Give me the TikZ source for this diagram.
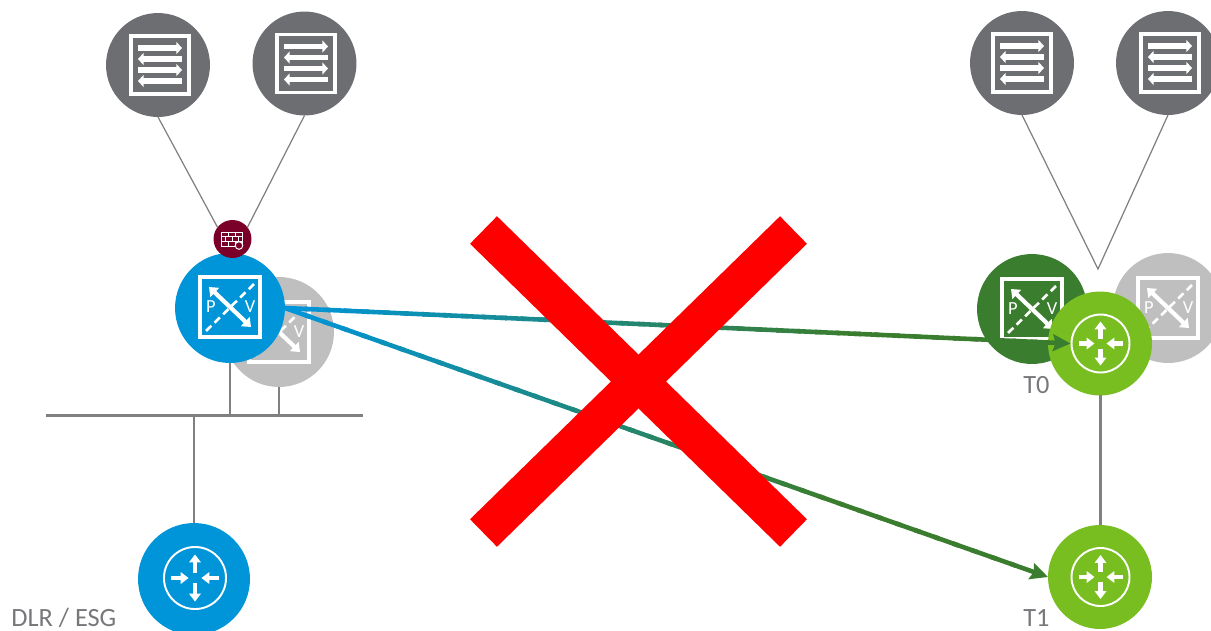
\documentclass[tikz,border=0pt]{standalone}
\usepackage{fontspec}
\setmainfont{Carlito}
\usetikzlibrary{arrows.meta,calc}
\definecolor{srvgray}{HTML}{6D6E71}
\definecolor{wiregray}{HTML}{808083}
\definecolor{txtgray}{HTML}{77787B}
\definecolor{lightgray}{HTML}{BFBFBF}
\definecolor{nsxblue}{HTML}{0095D9}
\definecolor{darkgreen}{HTML}{3A7D2E}
\definecolor{limegreen}{HTML}{78BE20}
\definecolor{fwred}{HTML}{7B0029}
\tikzset{
  disc/.style={circle,inner sep=0pt,outer sep=0pt,minimum size=#1*0.04cm},
  lbl/.style={text=txtgray,font=\fontsize{15}{18}\selectfont,inner sep=0pt},
  thinwire/.style={draw=wiregray,line width=0.7pt},
  wire/.style={draw=wiregray,line width=1.7pt},
  iconline/.style={draw=white,line width=1.8pt},
  pvicon/.pic={
    \draw[iconline] (-30,-30) rectangle (30,30);
    \draw[white,line width=2.4pt,{Triangle[length=4.5pt,width=7pt]}-{Triangle[length=4.5pt,width=7pt]}] (-21,-20) -- (21,20);
    \draw[white,line width=1.5pt,dash pattern=on 4.2pt off 2.6pt] (24,-23) -- (-25,25);
    \node[text=white,inner sep=0pt,font=\fontsize{10.5}{12}\selectfont] (-p) at (-19,0) {P};
    \node[text=white,inner sep=0pt,font=\fontsize{10.5}{12}\selectfont] (-v) at (20,0) {V};
  },
  routericon/.pic={
    \node[circle,draw=white,line width=1.1pt,minimum size=1.16cm,inner sep=0pt,transform shape] (-ring) at (0,0) {};
    \foreach \dx/\dy in {-1/0,1/0,0/-1,0/1}{
      \ifnum\dx=0
        \draw[white,line width=2.3pt,-{Triangle[length=4.5pt,width=6.5pt]}] (0,5*\dy) -- (0,22*\dy);
      \else
        \draw[white,line width=2.3pt,-{Triangle[length=4.5pt,width=6.5pt]}] (22*\dx,0) -- (6*\dx,0);
      \fi
    }
  },
  servericon/.pic={
    \draw[iconline] (-29,-29) rectangle (29,29);
    \foreach \yy/\tipdir in {-17/1,-6/-1,5/1,16/-1}{
      \draw[white,line width=3pt,-{Triangle[length=3.2pt,width=6.8pt]}] (-22*\tipdir,\yy) -- (22*\tipdir,\yy);
    }
  },
  fwicon/.pic={
    \draw[white,line width=0.55pt] (-11,-7) rectangle (10,7)
      (-11,-2.3) -- (10,-2.3) (-11,2.3) -- (10,2.3)
      (-4,-7) -- (-4,-2.3) (3,-7) -- (3,-2.3)
      (-7,-2.3) -- (-7,2.3) (0,-2.3) -- (0,2.3) (6,-2.3) -- (6,2.3)
      (-4,2.3) -- (-4,7) (3,2.3) -- (3,7);
    \draw[white,fill=fwred,line width=0.55pt] (7,6.5) circle (3.8);
  },
}
\begin{document}
\begin{tikzpicture}[x=0.02cm,y=-0.02cm]
  \path[use as bounding box,clip] (0,0) rectangle (1211,630);
  % edge racks
  \node[disc=52,fill=srvgray] (srvA) at (158,65) {};
  \node[disc=52,fill=srvgray] (srvB) at (304.5,63.5) {};
  \node[disc=52,fill=srvgray] (srvC) at (1022,63) {};
  \node[disc=52,fill=srvgray] (srvD) at (1168,63) {};
  \pic (icoA) at (160,65) {servericon};
  \pic (icoB) at (306,63.5) {servericon};
  \pic (icoC) at (1022,63) {servericon};
  \pic (icoD) at (1170,63) {servericon};
  % left side
  \coordinate (busL) at (46,415.5);
  \coordinate (busR) at (363,415.5);
  \node[disc=55,fill=lightgray] (pvgrayL) at (279,332) {};
  \pic (icoE) at (279,332) {pvicon};
  \node[disc=55,fill=nsxblue] (pvblue) at (230,308) {};
  \pic (icoF) at (230,307) {pvicon};
  \node[disc=19,fill=fwred] (fw) at (232.5,239) {};
  \pic (icoG) at (232,239) {fwicon};
  \draw[thinwire] (srvA.south) -- (fw.142);
  \draw[thinwire] (srvB.south) -- (fw.38);
  \node[disc=56,fill=nsxblue] (dlr) at (194,579) {};
  \pic[scale=1.07] (dlrR) at (195,578) {routericon};
  \draw[wire] (busL) -- (busR);
  \draw[wire] (pvblue.south) -- (pvblue.south |- busL);
  \draw[wire] (pvgrayL.south) -- (pvgrayL.south |- busL);
  \draw[wire] (dlr.north) -- (dlr.north |- busL);
  % right side
  \coordinate (apex) at (1098,269);
  \draw[thinwire] (srvC.south) -- (apex) -- (srvD.south);
  \node[disc=55,fill=darkgreen] (pvgreen) at (1032,309) {};
  \pic (icoH) at (1032,309) {pvicon};
  \node[disc=55,fill=lightgray] (pvgrayR) at (1168,308) {};
  \pic (icoI) at (1168,308) {pvicon};
  \node[disc=52,fill=limegreen] (tzero) at (1100,343.5) {};
  \pic (tzeroR) at (1100.5,343.5) {routericon};
  \node[disc=52,fill=limegreen] (tone) at (1100,577) {};
  \pic (toneR) at (1100.5,577) {routericon};
  \draw[wire] (tzero.south) -- (tone.north);
  % migration arrows, blue fading into green
  \foreach \target in {tzeroR-ring.west,tone.west}{
    \foreach \i in {0,...,37}{
      \pgfmathsetmacro{\tstart}{\i/40}
      \pgfmathsetmacro{\tend}{(\i+1.3)/40}
      \pgfmathsetmacro{\mixval}{max(0,100-\i*100/28)}
      \draw[nsxblue!\mixval!darkgreen,line width=2.6pt] ($(pvblue.east)!\tstart!(\target)$) -- ($(pvblue.east)!\tend!(\target)$);
    }
    \draw[darkgreen,line width=2.6pt,-{Stealth[length=10pt,width=9.5pt,inset=1.5pt]}] ($(pvblue.east)!0.95!(\target)$) -- (\target);
  }
  % big cross
  \coordinate (xa) at (483.5,230);
  \coordinate (xb) at (793.5,533);
  \coordinate (xc) at (793.5,230);
  \coordinate (xd) at (483.5,533);
  \draw[red,line width=0.77cm] (xa) -- (xb);
  \draw[red,line width=0.77cm] (xc) -- (xd);
  % labels
  \node[lbl,anchor=base west] (lblDlr) at (11,626) {DLR / ESG};
  \node[lbl,anchor=base west] (lblT0) at (1023,393) {T0};
  \node[lbl,anchor=base west] (lblT1) at (1023,626) {T1};
\end{tikzpicture}
\end{document}
